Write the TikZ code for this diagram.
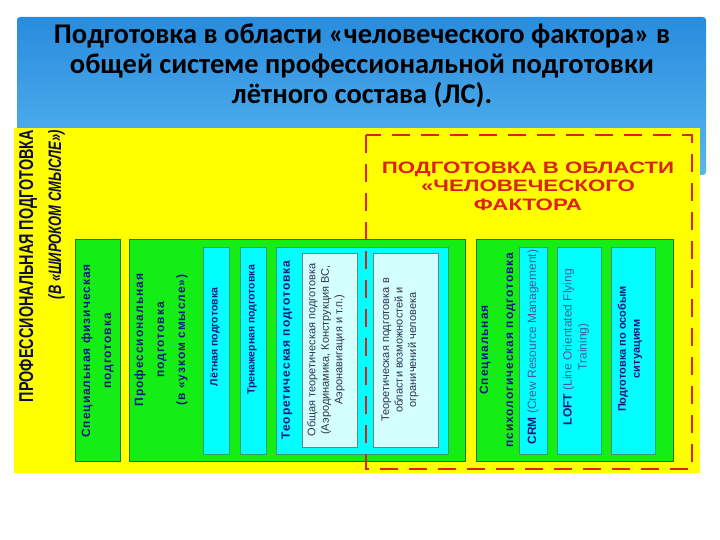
\documentclass[tikz,border=0pt]{standalone}
\usepackage{fontspec}
\setmainfont{Liberation Sans}
\newfontfamily\titlefont{Carlito}
\newfontfamily\narrowfont[FakeStretch=0.72]{Liberation Sans}
\newfontfamily\widefont[FakeStretch=1.35]{Liberation Sans}
\newfontfamily\spacedfont[LetterSpace=8]{Liberation Sans}
\usepackage{tikz}

\definecolor{bandtop}{RGB}{40,140,222}
\definecolor{bandbot}{RGB}{90,182,240}
\definecolor{yelfill}{RGB}{255,255,0}
\definecolor{grnfill}{RGB}{20,238,20}
\definecolor{grnline}{RGB}{30,120,30}
\definecolor{cyanfill}{RGB}{0,255,255}
\definecolor{cyanline}{RGB}{60,150,120}
\definecolor{litefill}{RGB}{212,255,255}
\definecolor{liteline}{RGB}{110,130,130}
\definecolor{navytxt}{RGB}{22,22,130}
\definecolor{darktxt}{RGB}{15,15,60}
\definecolor{greytxt}{RGB}{50,50,80}
\definecolor{engtxt}{RGB}{70,90,150}
\definecolor{hfred}{RGB}{222,32,28}

\begin{document}
\begin{tikzpicture}[x=1pt, y=-1pt,
  grnbox/.style={draw=grnline, fill=grnfill, line width=0.8pt},
  cyanbox/.style={draw=cyanline, fill=cyanfill, line width=0.8pt},
  litebox/.style={draw=liteline, fill=litefill, line width=0.6pt},
  lbl/.style={rotate=90, align=center, inner sep=0pt},
  grnlbl/.style={lbl, text=navytxt, font=\spacedfont\bfseries\fontsize{12}{21}\selectfont},
  cyanlbl/.style={lbl, text=navytxt, font=\bfseries\fontsize{10.5}{14}\selectfont},
  litelbl/.style={lbl, text=greytxt, font=\fontsize{11}{13.5}\selectfont},
  englbl/.style={lbl, text=engtxt, font=\fontsize{12}{15}\selectfont}]
  \useasboundingbox (0,0) rectangle (720,540);

  % Title band
  \shade[top color=bandtop, bottom color=bandbot, rounded corners=3pt] (17,17) rectangle (706,175);
  \node[font=\titlefont\bfseries\fontsize{28.5}{30}\selectfont, align=center, text=black] (title) at (362,66)
    {Подготовка в области «человеческого фактора» в\\общей системе профессиональной подготовки\\лётного состава (ЛС).};

  % Yellow field
  \fill[yelfill] (14,128) rectangle (700,473);
  \node[lbl, anchor=east, text=darktxt, align=right, font=\narrowfont\bfseries\fontsize{20}{28}\selectfont] (broad) at (42,130)
    {ПРОФЕССИОНАЛЬНАЯ ПОДГОТОВКА\\{\itshape\fontsize{18}{28}\selectfont (В «ШИРОКОМ СМЫСЛЕ»)}};

  % Green blocks
  \draw[grnbox] (75,239) rectangle (120,461);
  \draw[grnbox] (129,239) rectangle (465,461);
  \draw[grnbox] (476,239) rectangle (673,461);

  % Cyan blocks
  \foreach \xa/\xb in {203/229, 240/266, 276/448, 519/547, 557/601, 611/655}
    \draw[cyanbox] (\xa,247) rectangle (\xb,454);
  \draw[litebox] (302,253) rectangle (357,447);
  \draw[litebox] (373,253) rectangle (438,447);

  % Human factor area
  \draw[hfred, line width=2.6pt, dash pattern=on 18pt off 11pt] (366,135) rectangle (692,469);
  \node[font=\widefont\bfseries\fontsize{16.5}{18.5}\selectfont, text=hfred, align=center] (hfhead) at (528,186)
    {ПОДГОТОВКА В ОБЛАСТИ\\«ЧЕЛОВЕЧЕСКОГО\\ФАКТОРА};

  % Labels
  \node[grnlbl] (physlbl) at (97.5,351) {Специальная физическая\\подготовка};
  \node[grnlbl] (proflbl) at (161,340) {Профессиональная\\подготовка\\(в «узком смысле»)};
  \node[cyanlbl] (flightlbl) at (215,337) {Лётная подготовка};
  \node[cyanlbl] (simlbl) at (252,330) {Тренажерная подготовка};
  \node[grnlbl] (theorylbl) at (287,350) {Теоретическая подготовка};
  \node[litelbl] (genlbl) at (326,350) {Общая теоретическая подготовка\\(Аэродинамика, Конструкция ВС,\\Аэронавигация и т.п.)};
  \node[litelbl] (humlbl) at (400,350) {Теоретическая подготовка в\\области возможностей и\\ограничений человека};
  \node[grnlbl, font=\spacedfont\bfseries\fontsize{12}{25}\selectfont] (psylbl) at (497.5,350)
    {Специальная\\психологическая подготовка};
  \node[englbl] (crmlbl) at (533,347) {\textcolor{navytxt}{\bfseries CRM} (Crew Resource Management)};
  \node[englbl] (loftlbl) at (576,347) {\textcolor{navytxt}{\bfseries LOFT} (Line Orientated Flying\\Training)};
  \node[cyanlbl, font=\bfseries\fontsize{11}{14}\selectfont] (emerglbl) at (630,349) {Подготовка по особым\\ситуациям};
\end{tikzpicture}
\end{document}
